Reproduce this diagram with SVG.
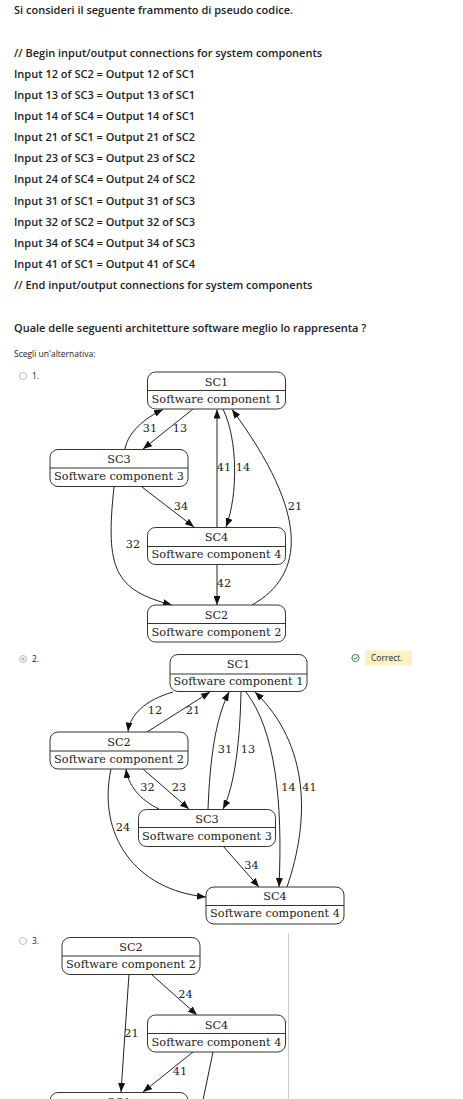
<svg xmlns="http://www.w3.org/2000/svg" width="463" height="1099" viewBox="0 0 463 1099">
<style>
.q{font-family:"Open Sans","Liberation Sans",sans-serif;font-size:11px;font-weight:600;fill:#1d2125}
.s{font-family:"Open Sans","Liberation Sans",sans-serif;font-size:8.5px;fill:#1d2125}
.box{fill:#fff;stroke:#333;stroke-width:1}
.div{stroke:#333;stroke-width:1}
.t{font-family:"DejaVu Serif","Liberation Serif",serif;font-size:11.3px;fill:#222;text-anchor:middle}
.e{fill:none;stroke:#222;stroke-width:1}
.ea{fill:none;stroke:#222;stroke-width:1;marker-end:url(#ah)}
.radio{fill:#fff;stroke:#bbb;stroke-width:1}
</style>
<defs>
<marker id="ah" viewBox="0 0 9 7" markerWidth="9" markerHeight="7" refX="9" refY="3.5" orient="auto" markerUnits="userSpaceOnUse">
<path d="M0,0 L9,3.5 L0,7 z" fill="#111"/>
</marker>
</defs>
<rect width="463" height="1099" fill="#fff"/>

<g id="question">
<text class="q" x="14" y="14">Si consideri il seguente frammento di pseudo codice.</text>
<text class="q" x="14" y="57">// Begin input/output connections for system components</text>
<text class="q" x="14" y="78">Input 12 of SC2 = Output 12 of SC1</text>
<text class="q" x="14" y="99">Input 13 of SC3 = Output 13 of SC1</text>
<text class="q" x="14" y="120">Input 14 of SC4 = Output 14 of SC1</text>
<text class="q" x="14" y="141">Input 21 of SC1 = Output 21 of SC2</text>
<text class="q" x="14" y="162">Input 23 of SC3 = Output 23 of SC2</text>
<text class="q" x="14" y="183">Input 24 of SC4 = Output 24 of SC2</text>
<text class="q" x="14" y="205">Input 31 of SC1 = Output 31 of SC3</text>
<text class="q" x="14" y="226">Input 32 of SC2 = Output 32 of SC3</text>
<text class="q" x="14" y="247">Input 34 of SC4 = Output 34 of SC3</text>
<text class="q" x="14" y="268">Input 41 of SC1 = Output 41 of SC4</text>
<text class="q" x="14" y="289">// End input/output connections for system components</text>
<text class="q" x="14" y="332">Quale delle seguenti architetture software meglio lo rappresenta ?</text>
<text class="s" x="14" y="357">Scegli un'alternativa:</text>
</g>

<g id="option1-label">
<circle class="radio" cx="23" cy="376" r="3.5"/>
<text class="s" x="32" y="378.5">1.</text>
</g>

<g id="d1-connectors">
<path class="ea" d="M125,449 C128,432 145,418 163,409.5"/>
<path class="ea" d="M193,409 L143,449"/>
<path class="ea" d="M217,527 L217,409.5"/>
<path class="ea" d="M223,409 C238,440 238,495 226,527"/>
<path class="ea" d="M252,605 C305,575 310,515 232,409.5"/>
<path class="ea" d="M142,487 L194,527"/>
<path class="ea" d="M114,487 C105,570 115,590 172,605"/>
<path class="ea" d="M217,564 L217,605"/>
<text class="t" x="150" y="432">31</text>
<text class="t" x="180" y="432">13</text>
<text class="t" x="224" y="471">41</text>
<text class="t" x="243" y="471">14</text>
<text class="t" x="295" y="510">21</text>
<text class="t" x="181" y="510">34</text>
<text class="t" x="133" y="548">32</text>
<text class="t" x="224" y="587">42</text>
</g>
<g id="d1-SC1">
<rect class="box" x="147.5" y="372" width="138" height="37" rx="8"/>
<line class="div" x1="147.5" y1="390.5" x2="285.5" y2="390.5"/>
<text class="t" x="216.5" y="385.5">SC1</text>
<text class="t" x="216.5" y="402.5">Software component 1</text>
</g>
<g id="d1-SC3">
<rect class="box" x="50" y="449.5" width="138" height="37" rx="8"/>
<line class="div" x1="50" y1="468" x2="188" y2="468"/>
<text class="t" x="119" y="463">SC3</text>
<text class="t" x="119" y="480">Software component 3</text>
</g>
<g id="d1-SC4">
<rect class="box" x="147.5" y="527.5" width="138" height="37" rx="8"/>
<line class="div" x1="147.5" y1="546.5" x2="285.5" y2="546.5"/>
<text class="t" x="216.5" y="541">SC4</text>
<text class="t" x="216.5" y="558">Software component 4</text>
</g>
<g id="d1-SC2">
<rect class="box" x="147.5" y="605" width="138" height="37" rx="8"/>
<line class="div" x1="147.5" y1="623.5" x2="285.5" y2="623.5"/>
<text class="t" x="216.5" y="618.5">SC2</text>
<text class="t" x="216.5" y="635.5">Software component 2</text>
</g>

<g id="option2-label">
<circle class="radio" cx="23" cy="659" r="3.5"/>
<circle cx="23" cy="659" r="1.8" fill="#bbb"/>
<text class="s" x="32" y="661.5">2.</text>
</g>
<g id="feedback">
<circle cx="355.5" cy="658" r="3.6" fill="none" stroke="#3b7a5a" stroke-width="1"/>
<path d="M353.8,658 L355.1,659.4 L357.4,656.6" fill="none" stroke="#3b7a5a" stroke-width="1"/>
<rect x="365" y="650.5" width="47" height="15" fill="#fdf1c3"/>
<text class="s" x="371" y="661">Correct.</text>
</g>

<g id="d2-connectors">
<path class="ea" d="M173,692 C145,700 130,715 128,731.5"/>
<path class="ea" d="M147,732 L210,692"/>
<path class="ea" d="M208,809 C210,760 215,720 229,692"/>
<path class="ea" d="M241,692 C240,740 235,785 223,809"/>
<path class="ea" d="M246,692 C275,730 283,800 279,887"/>
<path class="ea" d="M287,887 C310,820 310,745 255,692"/>
<path class="ea" d="M159,809 C140,800 128,785 126,769"/>
<path class="ea" d="M143,769 L189,809"/>
<path class="ea" d="M111,769 C97,835 135,890 206,897"/>
<path class="ea" d="M223,846 L259,887"/>
<text class="t" x="155" y="714">12</text>
<text class="t" x="193" y="714">21</text>
<text class="t" x="225" y="753">31</text>
<text class="t" x="248" y="753">13</text>
<text class="t" x="147.5" y="791">32</text>
<text class="t" x="179" y="791">23</text>
<text class="t" x="288.5" y="791">14</text>
<text class="t" x="309.5" y="791">41</text>
<text class="t" x="123" y="830.5">24</text>
<text class="t" x="251.5" y="869">34</text>
</g>
<g id="d2-SC1">
<rect class="box" x="170" y="654.5" width="137" height="37" rx="8"/>
<line class="div" x1="170" y1="674" x2="307" y2="674"/>
<text class="t" x="238.5" y="668">SC1</text>
<text class="t" x="238.5" y="685">Software component 1</text>
</g>
<g id="d2-SC2">
<rect class="box" x="50" y="732" width="138" height="37" rx="8"/>
<line class="div" x1="50" y1="751" x2="188" y2="751"/>
<text class="t" x="119" y="745.5">SC2</text>
<text class="t" x="119" y="762.5">Software component 2</text>
</g>
<g id="d2-SC3">
<rect class="box" x="138.5" y="809.5" width="137" height="37" rx="8"/>
<line class="div" x1="138.5" y1="827.5" x2="275.5" y2="827.5"/>
<text class="t" x="207" y="823">SC3</text>
<text class="t" x="207" y="840">Software component 3</text>
</g>
<g id="d2-SC4">
<rect class="box" x="206" y="887" width="138" height="37" rx="8"/>
<line class="div" x1="206" y1="905.5" x2="344" y2="905.5"/>
<text class="t" x="275" y="900">SC4</text>
<text class="t" x="275" y="917">Software component 4</text>
</g>

<g id="option3-label">
<circle class="radio" cx="23" cy="941" r="3.5"/>
<text class="s" x="32" y="943.5">3.</text>
</g>
<line x1="288.5" y1="933" x2="288.5" y2="1099" stroke="#ccc" stroke-width="1"/>

<g id="d3-connectors">
<path class="ea" d="M151,974 L197,1015"/>
<path class="ea" d="M129,974 L121,1092"/>
<path class="ea" d="M193,1052 L143,1092"/>
<path class="e" d="M213,1052 L203,1100"/>
<text class="t" x="185.5" y="997.5">24</text>
<text class="t" x="131.5" y="1036.5">21</text>
<text class="t" x="180" y="1075">41</text>
</g>
<g id="d3-SC2">
<rect class="box" x="62" y="937.5" width="138" height="37" rx="8"/>
<line class="div" x1="62" y1="956" x2="200" y2="956"/>
<text class="t" x="131" y="951">SC2</text>
<text class="t" x="131" y="968">Software component 2</text>
</g>
<g id="d3-SC4">
<rect class="box" x="147.5" y="1015" width="138" height="37" rx="8"/>
<line class="div" x1="147.5" y1="1033.5" x2="285.5" y2="1033.5"/>
<text class="t" x="216.5" y="1028.5">SC4</text>
<text class="t" x="216.5" y="1045.5">Software component 4</text>
</g>
<g id="d3-SC1">
<rect class="box" x="50" y="1092.5" width="138" height="37" rx="8"/>
<text class="t" x="119" y="1106">SC1</text>
</g>
</svg>
